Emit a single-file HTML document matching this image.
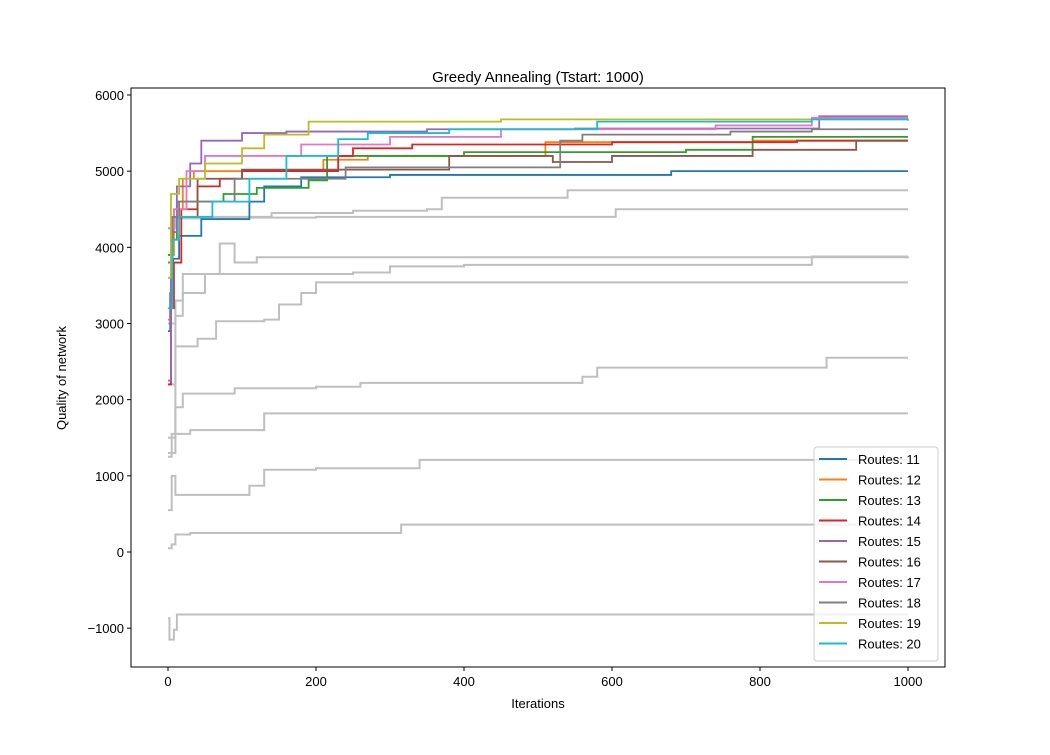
<!DOCTYPE html>
<html><head><meta charset="utf-8"><style>
body{margin:0;background:#fff;}
svg text{font-family:"Liberation Sans","DejaVu Sans",sans-serif;}
</style></head><body>
<svg id="chart" width="1050" height="750" xmlns="http://www.w3.org/2000/svg"></svg>
<script>
const routes = ["Routes: 11","Routes: 12","Routes: 13","Routes: 14","Routes: 15","Routes: 16","Routes: 17","Routes: 18","Routes: 19","Routes: 20"];
const colors = ["#1f77b4","#ff7f0e","#2ca02c","#d62728","#9467bd","#8c564b","#e377c2","#7f7f7f","#bcbd22","#17becf"];
const colorSeries = [
 [[0,2900],[3,3400],[7,3850],[15,4150],[30,4150],[45,4370],[110,4600],[130,4800],[180,4920],[300,4950],[680,5000],[1000,5000]],
 [[0,3050],[4,3900],[8,4500],[20,4900],[35,5000],[210,5150],[270,5200],[510,5380],[790,5400],[1000,5400]],
 [[0,3900],[4,4100],[12,4600],[75,4700],[120,4780],[190,4880],[215,5200],[400,5250],[700,5280],[790,5450],[1000,5450]],
 [[0,2200],[4,3200],[8,3800],[18,4500],[40,4800],[70,4900],[100,5000],[230,5200],[250,5300],[330,5350],[600,5380],[850,5400],[1000,5400]],
 [[0,2250],[4,4200],[12,4800],[30,5100],[45,5400],[100,5500],[160,5520],[350,5550],[550,5560],[880,5720],[1000,5720]],
 [[0,3800],[6,4400],[40,4900],[100,5020],[380,5200],[520,5120],[600,5200],[790,5280],[930,5400],[1000,5400]],
 [[0,4250],[8,4500],[25,5000],[50,5200],[180,5350],[300,5450],[450,5550],[740,5600],[870,5700],[1000,5700]],
 [[0,3800],[6,4400],[15,4600],[90,4900],[240,5050],[530,5400],[560,5480],[760,5520],[870,5550],[1000,5550]],
 [[0,3600],[4,4700],[15,4900],[50,5100],[100,5300],[130,5480],[190,5650],[450,5680],[1000,5660]],
 [[0,3200],[6,4100],[15,4400],[60,4600],[110,4900],[160,5200],[230,5420],[270,5500],[380,5550],[580,5650],[870,5680],[1000,5680]]
];
const graySeries = [
 [[0,4250],[10,4400],[140,4450],[250,4480],[350,4500],[370,4650],[540,4750],[1000,4750]],
 [[0,3900],[5,4380],[100,4390],[200,4400],[605,4500],[1000,4500]],
 [[0,3000],[10,3300],[20,3650],[70,4050],[90,3800],[120,3870],[1000,3880]],
 [[0,2200],[10,3100],[20,3400],[50,3650],[250,3670],[300,3750],[400,3770],[870,3880],[1000,3880]],
 [[0,1300],[10,2700],[40,2800],[65,3030],[130,3050],[150,3250],[180,3400],[200,3540],[1000,3540]],
 [[0,1500],[10,1900],[20,2080],[90,2150],[200,2170],[260,2220],[560,2300],[580,2420],[890,2550],[1000,2550]],
 [[0,1250],[5,1550],[30,1600],[130,1820],[1000,1820]],
 [[0,550],[5,1000],[10,750],[110,870],[130,1080],[200,1100],[340,1210],[1000,1210]],
 [[0,50],[5,100],[10,230],[30,250],[315,360],[1000,360]],
 [[0,-870],[2,-1150],[8,-1020],[12,-820],[1000,-820]]
];
const xTicks=[0,200,400,600,800,1000];
const yTicks=[-1000,0,1000,2000,3000,4000,5000,6000];
const L=131,R=945,T=88,B=667;
const xs=v=>168+v*0.74;
const ys=v=>552-v*0.07617;
const svg=document.getElementById('chart');
const NS="http://www.w3.org/2000/svg";
function mk(t,a,p){const e=document.createElementNS(NS,t);for(const k in a)e.setAttribute(k,a[k]);(p||svg).appendChild(e);return e;}
function stepPath(pts){let d=`M${xs(pts[0][0])},${ys(pts[0][1])}`;for(let i=1;i<pts.length;i++){d+=`H${xs(pts[i][0])}V${ys(pts[i][1])}`;}return d;}
const title=mk('text',{x:538,y:82,'text-anchor':'middle','font-size':15});title.textContent="Greedy Annealing (Tstart: 1000)";


graySeries.forEach((s,i)=>{const p=mk('path',{d:stepPath(s),fill:'none',stroke:'#bfbfbf','stroke-width':2});

});
colorSeries.forEach((s,i)=>{const p=mk('path',{d:stepPath(s),fill:'none',stroke:colors[i],'stroke-width':1.8});

});
const frame=mk('rect',{x:L,y:T,width:R-L,height:B-T,fill:'none',stroke:'#000','stroke-width':1});


xTicks.forEach(v=>{mk('line',{x1:xs(v),x2:xs(v),y1:B,y2:B+4,stroke:'#000'});const t=mk('text',{x:xs(v),y:B+19,'text-anchor':'middle','font-size':13});t.textContent=v;

});
yTicks.forEach(v=>{mk('line',{x1:L-4,x2:L,y1:ys(v),y2:ys(v),stroke:'#000'});const t=mk('text',{x:L-7,y:ys(v)+5,'text-anchor':'end','font-size':13});t.textContent=v<0?'\u2212'+(-v):v;

});
const xl=mk('text',{x:538,y:708,'text-anchor':'middle','font-size':13});xl.textContent="Iterations";


const yl=mk('text',{x:66,y:378,'text-anchor':'middle','font-size':13,transform:'rotate(-90 66 378)'});yl.textContent="Quality of network";


const lg=mk('g',{});


mk('rect',{x:814,y:447,width:124,height:214,rx:3,fill:'#fff','fill-opacity':0.8,stroke:'#ccc'},lg);
routes.forEach((r,i)=>{const y=459+i*20.5;const g=mk('g',{},lg);


mk('line',{x1:819,x2:847,y1:y,y2:y,stroke:colors[i],'stroke-width':2},g);
const t=mk('text',{x:858,y:y+5,'font-size':13},g);t.textContent=r;});
</script>
</body></html>
